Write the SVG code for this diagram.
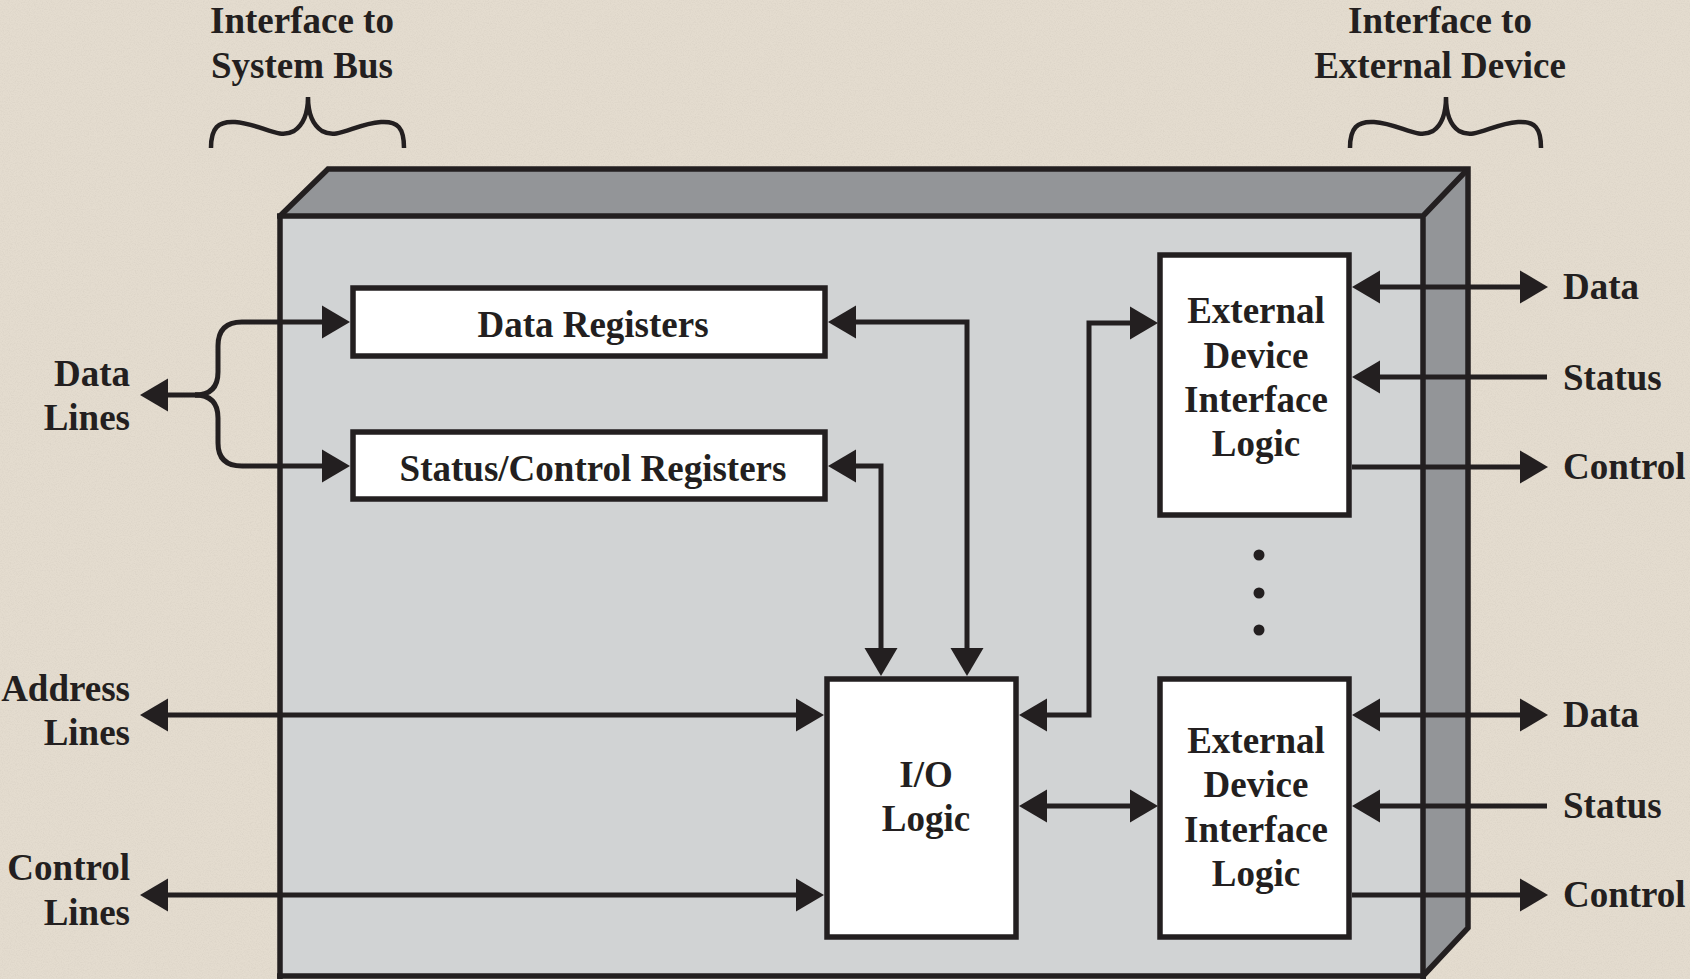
<svg xmlns="http://www.w3.org/2000/svg" width="1690" height="979" viewBox="0 0 1690 979">
<style>
  .t { font-family: "Liberation Serif", "Times New Roman", serif; font-weight: bold; font-size: 37px; fill: #231f20; }
  .m { text-anchor: middle; }
  .e { text-anchor: end; }
  .box { fill: #ffffff; stroke: #231f20; stroke-width: 5.5; }
  .wire { fill: none; stroke: #231f20; stroke-width: 5; stroke-linejoin: miter; }
  .brace { fill: none; stroke: #231f20; stroke-width: 4.5; stroke-linecap: butt; }
  .edge { fill: none; stroke: #231f20; stroke-width: 5.5; stroke-linejoin: miter; stroke-linecap: butt; }
  .bi { marker-start: url(#ah); marker-end: url(#ah); }
  .one { marker-end: url(#ah); }
</style>
<defs>
  <marker id="ah" markerUnits="userSpaceOnUse" viewBox="0 -17 30 34" markerWidth="30" markerHeight="34" refX="22" refY="0" orient="auto-start-reverse">
    <path d="M0,-16.5 L28,0 L0,16.5 Z" fill="#231f20"/>
  </marker>
  <filter id="grain" x="0" y="0" width="100%" height="100%">
    <feTurbulence type="fractalNoise" baseFrequency="0.85" numOctaves="2" seed="7"/>
    <feColorMatrix type="matrix" values="0 0 0 0 0.6  0 0 0 0 0.55  0 0 0 0 0.48  0.7 0 0 0 -0.28"/>
  </filter>
</defs>

<rect id="background" x="0" y="0" width="1690" height="979" fill="#e4dccf"/>
<rect x="0" y="0" width="1690" height="979" filter="url(#grain)"/>

<g id="labels-top">
  <text class="t m" x="302" y="33">Interface to</text>
  <text class="t m" x="302" y="78">System Bus</text>
  <text class="t m" x="1440" y="33">Interface to</text>
  <text class="t m" x="1440" y="78">External Device</text>
  <path class="brace" d="M 211,148 C 211,128 218,121 235,122 C 262,124 278,140 294,131 C 303,125 308,113 308,97 C 308,113 313,125 322,131 C 338,140 354,124 381,122 C 398,121 404,128 404,148"/>
  <path class="brace" d="M 1350,148 C 1350,128 1357,121 1374,122 C 1401,124 1417,140 1433,131 C 1442,125 1446,113 1446,97 C 1446,113 1450,125 1459,131 C 1475,140 1491,124 1518,122 C 1535,121 1541,128 1541,148"/>
</g>

<g id="module">
  <polygon points="280,216 328,169 1468,169 1423,216" fill="#939598"/>
  <polygon points="1423,216 1468,169 1468,928 1423,976" fill="#939598"/>
  <rect x="280" y="216" width="1143" height="760" fill="#d1d3d4"/>
  <path class="edge" d="M 280,979 L 280,216 L 328,169 L 1468,169 L 1468,928 L 1423,976"/>
  <path class="edge" d="M 277,216 L 1423,216 L 1423,979 M 1423,216 L 1466,171"/>
  <path class="edge" d="M 277,976 L 1426,976"/>
</g>

<g id="data-registers">
  <rect class="box" x="353" y="288" width="472" height="68"/>
  <text class="t m" x="593" y="337">Data Registers</text>
</g>

<g id="status-control-registers">
  <rect class="box" x="353" y="432" width="472" height="67"/>
  <text class="t m" x="593" y="481">Status/Control Registers</text>
</g>

<g id="io-logic">
  <rect class="box" x="827" y="679" width="189" height="258"/>
  <text class="t m" x="926" y="787">I/O</text>
  <text class="t m" x="926" y="831">Logic</text>
</g>

<g id="ext-device-1">
  <rect class="box" x="1160" y="255" width="189" height="260"/>
  <text class="t m" x="1256" y="323">External</text>
  <text class="t m" x="1256" y="368">Device</text>
  <text class="t m" x="1256" y="412">Interface</text>
  <text class="t m" x="1256" y="456">Logic</text>
</g>

<g id="ext-device-2">
  <rect class="box" x="1160" y="679" width="189" height="258"/>
  <text class="t m" x="1256" y="753">External</text>
  <text class="t m" x="1256" y="797">Device</text>
  <text class="t m" x="1256" y="842">Interface</text>
  <text class="t m" x="1256" y="886">Logic</text>
</g>

<g id="ellipsis" fill="#231f20">
  <circle cx="1259" cy="555" r="5.5"/>
  <circle cx="1259" cy="593" r="5.5"/>
  <circle cx="1259" cy="630" r="5.5"/>
</g>

<g id="labels-side">
  <text class="t e" x="130" y="386">Data</text>
  <text class="t e" x="130" y="430">Lines</text>
  <text class="t e" x="130" y="701">Address</text>
  <text class="t e" x="130" y="745">Lines</text>
  <text class="t e" x="130" y="880">Control</text>
  <text class="t e" x="130" y="925">Lines</text>
  <text class="t" x="1563" y="299">Data</text>
  <text class="t" x="1563" y="390">Status</text>
  <text class="t" x="1563" y="479">Control</text>
  <text class="t" x="1563" y="727">Data</text>
  <text class="t" x="1563" y="818">Status</text>
  <text class="t" x="1563" y="907">Control</text>
</g>

<g id="connectors">
  <!-- data lines fork -->
  <path class="wire" d="M 201,395 L 146,395" marker-end="url(#ah)"/>
  <path class="wire one" d="M 195,395 Q 218,395 218,372 L 218,346 Q 218,322 242,322 L 344,322"/>
  <path class="wire one" d="M 195,395 Q 218,395 218,418 L 218,443 Q 218,466 242,466 L 344,466"/>
  <!-- address / control lines -->
  <path class="wire bi" d="M 146,715 L 818,715"/>
  <path class="wire bi" d="M 146,895 L 818,895"/>
  <!-- registers to I/O logic -->
  <path class="wire bi" d="M 834,322 L 967,322 L 967,670"/>
  <path class="wire bi" d="M 834,466 L 881,466 L 881,670"/>
  <!-- I/O logic to device interfaces -->
  <path class="wire bi" d="M 1025,715 L 1089,715 L 1089,323 L 1152,323"/>
  <path class="wire bi" d="M 1025,806 L 1152,806"/>
  <!-- external device 1 -->
  <path class="wire bi" d="M 1358,287 L 1542,287"/>
  <path class="wire one" d="M 1547,377 L 1358,377"/>
  <path class="wire one" d="M 1352,467 L 1542,467"/>
  <!-- external device 2 -->
  <path class="wire bi" d="M 1358,715 L 1542,715"/>
  <path class="wire one" d="M 1547,806 L 1358,806"/>
  <path class="wire one" d="M 1352,895 L 1542,895"/>
</g>
</svg>
